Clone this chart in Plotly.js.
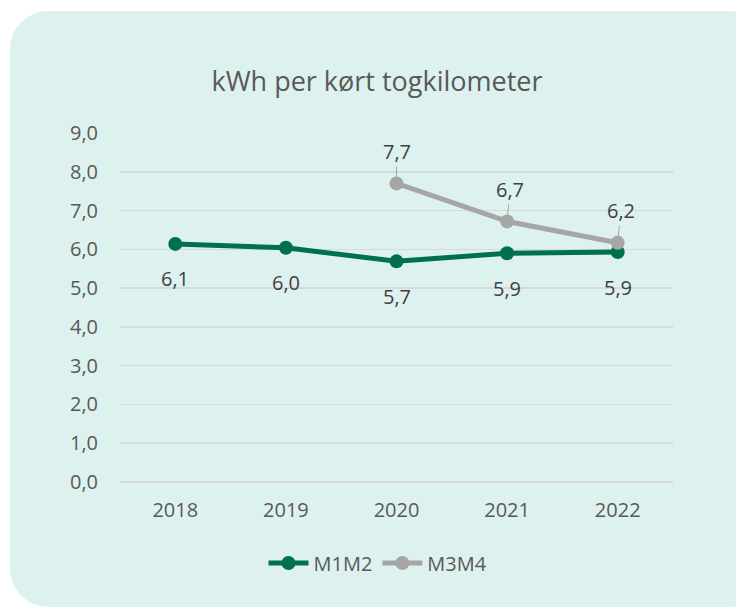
<!DOCTYPE html>
<html>
<head>
<meta charset="utf-8">
<script src="https://cdn.plot.ly/plotly-3.0.1.min.js"></script>
<style>
html,body{margin:0;padding:0;background:#ffffff;width:736px;height:612px;overflow:hidden;}
#bg{position:absolute;left:10px;top:11px;width:760px;height:596px;background:#DDF2EF;border-radius:38px;}
#chart{position:absolute;left:0;top:0;width:736px;height:612px;}
</style>
</head>
<body>
<div id="bg"></div>
<div id="chart"></div>
<script>
const years = ["2018", "2019", "2020", "2021", "2022"];
const m1m2 = [6.14, 6.04, 5.69, 5.90, 5.93];
const m3m4 = [null, null, 7.70, 6.72, 6.17];
const seriesNames = ["M1M2", "M3M4"];
const yTicks = [0, 1, 2, 3, 4, 5, 6, 7, 8, 9];

const green = "#00704F";
const gray = "#A6A6A6";
const txt = "#595959";
const fontFam = "'Open Sans', 'Noto Sans', sans-serif";

function fmt(v) { return v.toFixed(1).replace(".", ","); }

const traces = [
  {x: years, y: m1m2, name: seriesNames[0], type: "scatter", mode: "lines+markers",
   line: {color: green, width: 5}, marker: {color: green, size: 14}, hoverinfo: "skip"},
  {x: years, y: m3m4, name: seriesNames[1], type: "scatter", mode: "lines+markers",
   line: {color: gray, width: 5}, marker: {color: gray, size: 14}, hoverinfo: "skip"}
];

const annotations = [];
years.forEach(function (yr, i) {
  if (m1m2[i] != null) {
    annotations.push({x: i, y: m1m2[i], xref: "x", yref: "y", text: fmt(m1m2[i]),
      showarrow: false, yshift: -35, font: {family: fontFam, size: 20, color: "#404040"}});
  }
  if (m3m4[i] != null) {
    annotations.push({x: i, y: m3m4[i], xref: "x", yref: "y", text: fmt(m3m4[i]),
      showarrow: true, arrowhead: 0, arrowwidth: 1, arrowcolor: "#A6A6A6",
      ax: (i === 2 ? 0 : 3), ay: -32, standoff: 6,
      font: {family: fontFam, size: 20, color: "#404040"}});
  }
});

const layout = {
  width: 736, height: 612,
  paper_bgcolor: "rgba(0,0,0,0)", plot_bgcolor: "rgba(0,0,0,0)",
  margin: {l: 120, r: 63, t: 133, b: 130},
  separators: ", ",
  font: {family: fontFam, color: txt, size: 20},
  title: {text: "kWh per kørt togkilometer", font: {family: fontFam, size: 27, color: "#595959"},
          x: 377/736, xref: "container", xanchor: "center", y: 1 - 82/612, yref: "container", yanchor: "middle"},
  xaxis: {type: "category", range: [-0.5, 4.5], showgrid: false, zeroline: false,
          showline: false, ticks: "", ticklabelstandoff: 14,
          tickfont: {family: fontFam, size: 20, color: txt}, fixedrange: true},
  yaxis: {range: [0, 9], tickvals: yTicks, tickformat: ".1f", showgrid: true,
          gridcolor: "#D9D9D9", gridwidth: 1.5, zeroline: true, zerolinecolor: "#D9D9D9", zerolinewidth: 1.5,
          showline: false, ticks: "", ticklabelstandoff: 21,
          tickfont: {family: fontFam, size: 20, color: txt}, fixedrange: true},
  showlegend: true,
  legend: {orientation: "h", x: 378/736, xref: "container", xanchor: "center",
           y: 1 - 563/612, yref: "container", yanchor: "middle",
           font: {family: fontFam, size: 20, color: txt}, bgcolor: "rgba(0,0,0,0)",
           itemwidth: 40, tracegroupgap: 0},
  annotations: annotations
};

Plotly.newPlot("chart", traces, layout, {displayModeBar: false, staticPlot: true});
</script>
</body>
</html>
